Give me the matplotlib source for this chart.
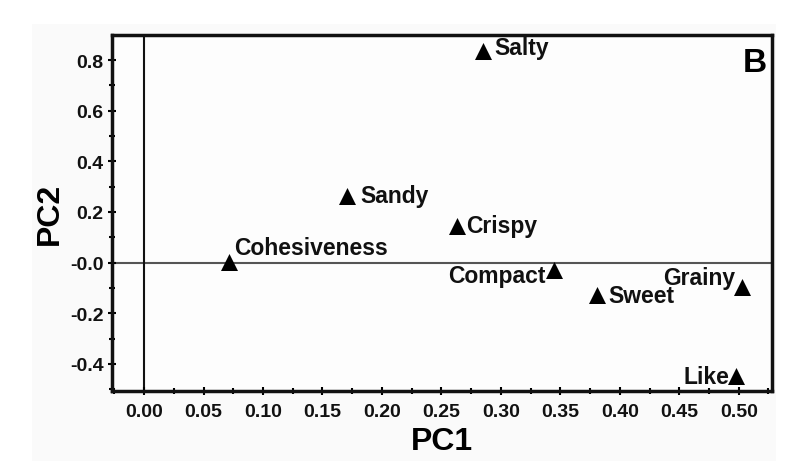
import matplotlib
matplotlib.use("Agg")
import matplotlib.pyplot as plt
from matplotlib.patches import Rectangle
from matplotlib.ticker import MultipleLocator
import numpy as np

plt.rcParams['font.family'] = ['Liberation Sans', 'DejaVu Sans']
plt.rcParams['axes.unicode_minus'] = False

attributes = ['Salty', 'Sandy', 'Crispy', 'Cohesiveness', 'Compact', 'Sweet', 'Grainy', 'Like']
pc1 = [0.285, 0.171, 0.263, 0.071, 0.345, 0.381, 0.503, 0.498]
pc2 = [0.835, 0.264, 0.145, 0.003, -0.029, -0.128, -0.096, -0.448]

# label offsets (points) and alignment - layout only
offsets = {
    'Salty': (8, 3, 'left'),
    'Sandy': (9, 0, 'left'),
    'Crispy': (7, 0, 'left'),
    'Cohesiveness': (4, 10, 'left'),
    'Compact': (-6, -4, 'right'),
    'Sweet': (8, 0, 'left'),
    'Grainy': (-5, 7, 'right'),
    'Like': (-5, 0, 'right'),
}

xticks = [0.00, 0.05, 0.10, 0.15, 0.20, 0.25, 0.30, 0.35, 0.40, 0.45, 0.50]
xtick_labels = ['0.00', '0.05', '0.10', '0.15', '0.20', '0.25', '0.30', '0.35', '0.40', '0.45', '0.50']
yticks = [-0.4, -0.2, 0.0, 0.2, 0.4, 0.6, 0.8]
ytick_labels = ['-0.4', '-0.2', '-0.0', '0.2', '0.4', '0.6', '0.8']

fig = plt.figure(figsize=(8.04, 4.77), dpi=100, facecolor='white')
fig.patches.append(Rectangle((32/804, 1-462/477), (776-32)/804, (462-25)/477,
                             transform=fig.transFigure, facecolor='#fafafa',
                             edgecolor='none', zorder=-10))
ax = fig.add_axes([112/804, 1-392/477, (772-112)/804, (392-36)/477])
ax.set_facecolor('#fdfdfd')

ax.set_xlim(-0.027, 0.528)
ax.set_ylim(-0.507, 0.899)

ax.axhline(0, color='#555555', lw=1.5, zorder=1)
ax.axvline(0, color='#111111', lw=1.5, zorder=1)

ax.scatter(pc1, pc2, marker='^', s=150, color='black', zorder=3, linewidths=0)
for name, x, y in zip(attributes, pc1, pc2):
    dx, dy, ha = offsets[name]
    ax.annotate(name, (x, y), xytext=(dx, dy), textcoords='offset points',
                ha=ha, va='center', fontsize=16.5, fontweight='bold', color='#111111')

ax.text(0.992, 0.965, 'B', transform=ax.transAxes, ha='right', va='top',
        fontsize=24, fontweight='heavy', color='black')

ax.set_xticks(xticks)
ax.set_xticklabels(xtick_labels)
ax.set_yticks(yticks)
ax.set_yticklabels(ytick_labels)
ax.xaxis.set_minor_locator(MultipleLocator(0.025))
ax.yaxis.set_minor_locator(MultipleLocator(0.1))
ax.tick_params(which='both', direction='inout', length=6, width=1.5, labelsize=14)
ax.tick_params(axis='x', pad=6)
ax.tick_params(axis='y', pad=3)
ax.tick_params(which='minor', length=5)
for lab in ax.get_xticklabels() + ax.get_yticklabels():
    lab.set_fontweight('bold')
    lab.set_color('#111111')

for sp in ax.spines.values():
    sp.set_linewidth(2.5)
    sp.set_color('#111111')

ax.set_xlabel('PC1', fontsize=23, fontweight='bold', labelpad=4)
ax.set_ylabel('PC2', fontsize=23, fontweight='bold', labelpad=4)

fig.savefig('out.png', dpi=100, facecolor='white')
